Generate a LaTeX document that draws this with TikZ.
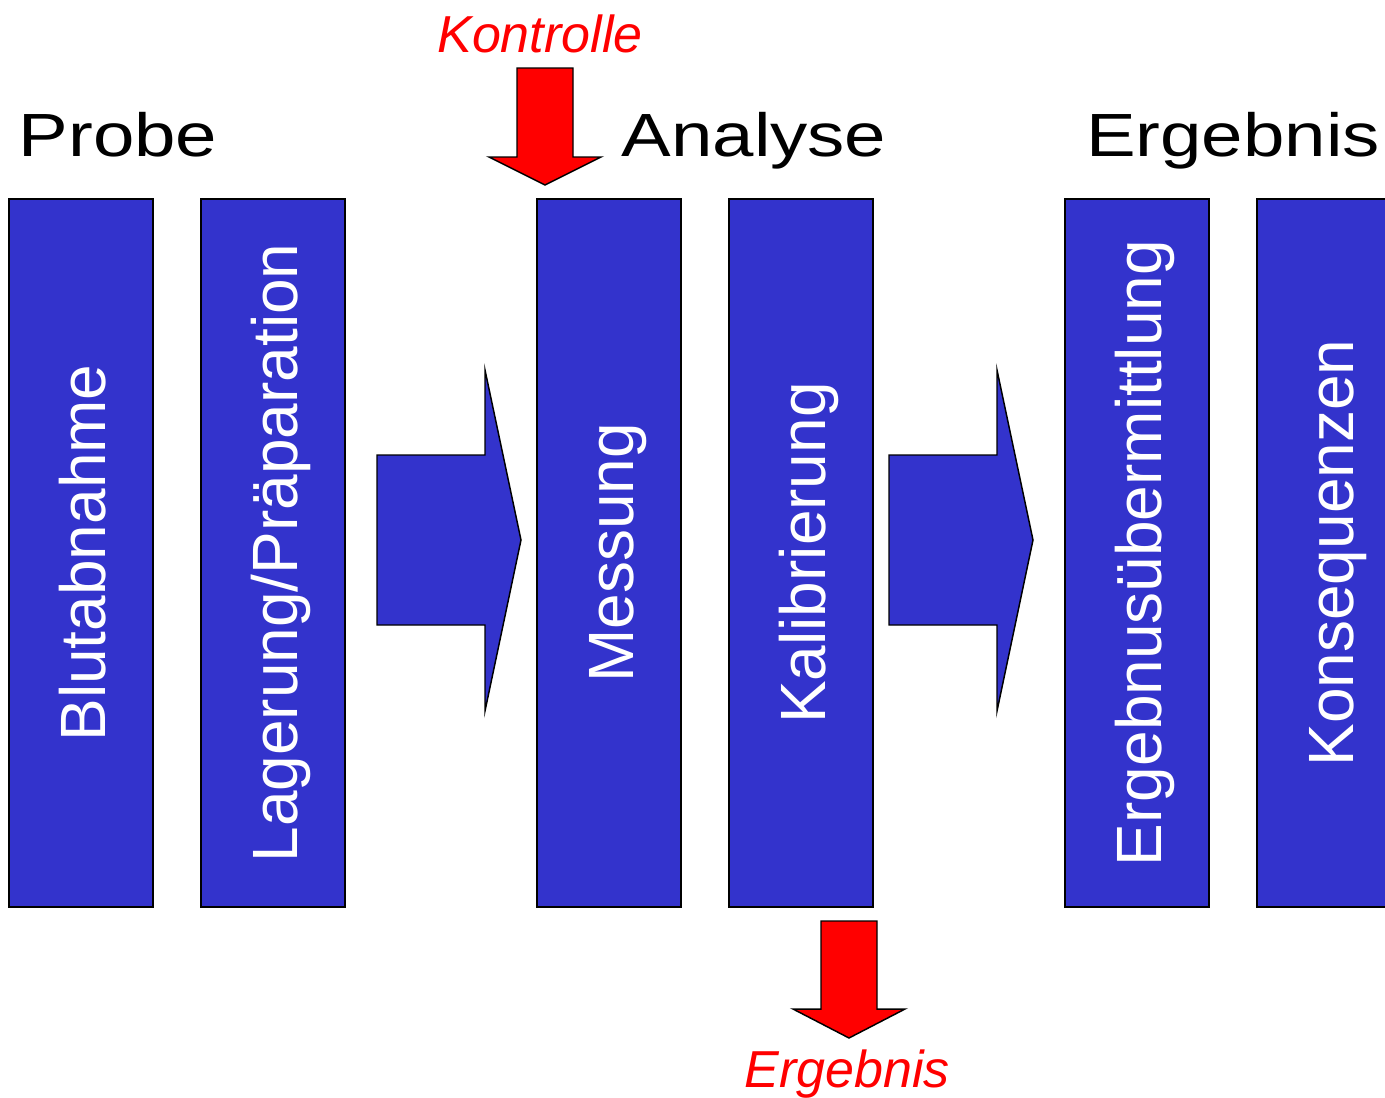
\documentclass[tikz,border=0pt]{standalone}
\usepackage{fontspec}
\setmainfont{Liberation Sans}
\usepackage{graphicx}
\definecolor{boxblue}{HTML}{3333CC}
\definecolor{arrred}{HTML}{FF0000}
\begin{document}
\begin{tikzpicture}[x=0.75pt,y=-0.75pt,
  stagebox/.style={draw=black,fill=boxblue,line width=1.2pt},
  bigarrow/.style={draw=black,fill=boxblue,line width=1.1pt,line join=miter},
  redarrow/.style={draw=black,fill=arrred,line width=1.1pt,line join=miter},
  stagelabel/.style={rotate=90,anchor=base,inner sep=0pt,text=white,font=\fontsize{48pt}{52pt}\selectfont},
  heading/.style={anchor=base,inner sep=0pt,text=black,font=\fontsize{45.75pt}{50pt}\selectfont},
  redlabel/.style={anchor=base,inner sep=0pt,text=arrred,font=\fontsize{39pt}{44pt}\selectfont\itshape}]
\useasboundingbox (0,0) rectangle (1385,1097);
\clip (0,0) rectangle (1385,1097);
% stage boxes
\draw[stagebox] (9,199) rectangle (153,907);
\draw[stagebox] (201,199) rectangle (345,907);
\draw[stagebox] (537,199) rectangle (681,907);
\draw[stagebox] (729,199) rectangle (873,907);
\draw[stagebox] (1065,199) rectangle (1209,907);
\draw[stagebox] (1257,199) rectangle (1401,907);
% stage labels
\node[stagelabel] (blut) at (105,553) {Blutabnahme};
\node[stagelabel] (lager) at (297,553) {Lagerung/Präparation};
\node[stagelabel] (mess) at (633,553) {Messung};
\node[stagelabel] (kalib) at (825,553) {Kalibrierung};
\node[stagelabel] (uebermitt) at (1161,553) {Ergebnusübermittlung};
\node[stagelabel] (konseq) at (1353,553) {Konsequenzen};
% big arrows
\draw[bigarrow] (377,455) -- (485,455) -- (485,370) -- (521,540) -- (485,711) -- (485,625) -- (377,625) -- cycle;
\draw[bigarrow] (889,455) -- (997,455) -- (997,370) -- (1033,540) -- (997,711) -- (997,625) -- (889,625) -- cycle;
% red arrows
\draw[redarrow] (517,68) -- (573,68) -- (573,157) -- (601,157) -- (545,185) -- (489,157) -- (517,157) -- cycle;
\draw[redarrow] (821,921) -- (877,921) -- (877,1009) -- (905,1009) -- (849,1038) -- (793,1009) -- (821,1009) -- cycle;
% headings
\node[heading] (probe) at (118,156) {\scalebox{1.22}[1]{Probe}};
\node[heading] (analyse) at (754,156) {\scalebox{1.22}[1]{Analyse}};
\node[heading] (ergebnis) at (1233,156) {\scalebox{1.22}[1]{Ergebnis}};
% red labels
\node[redlabel] (kontrolle) at (540,52) {Kontrolle};
\node[redlabel] (ergred) at (847,1087) {Ergebnis};
\end{tikzpicture}
\end{document}
